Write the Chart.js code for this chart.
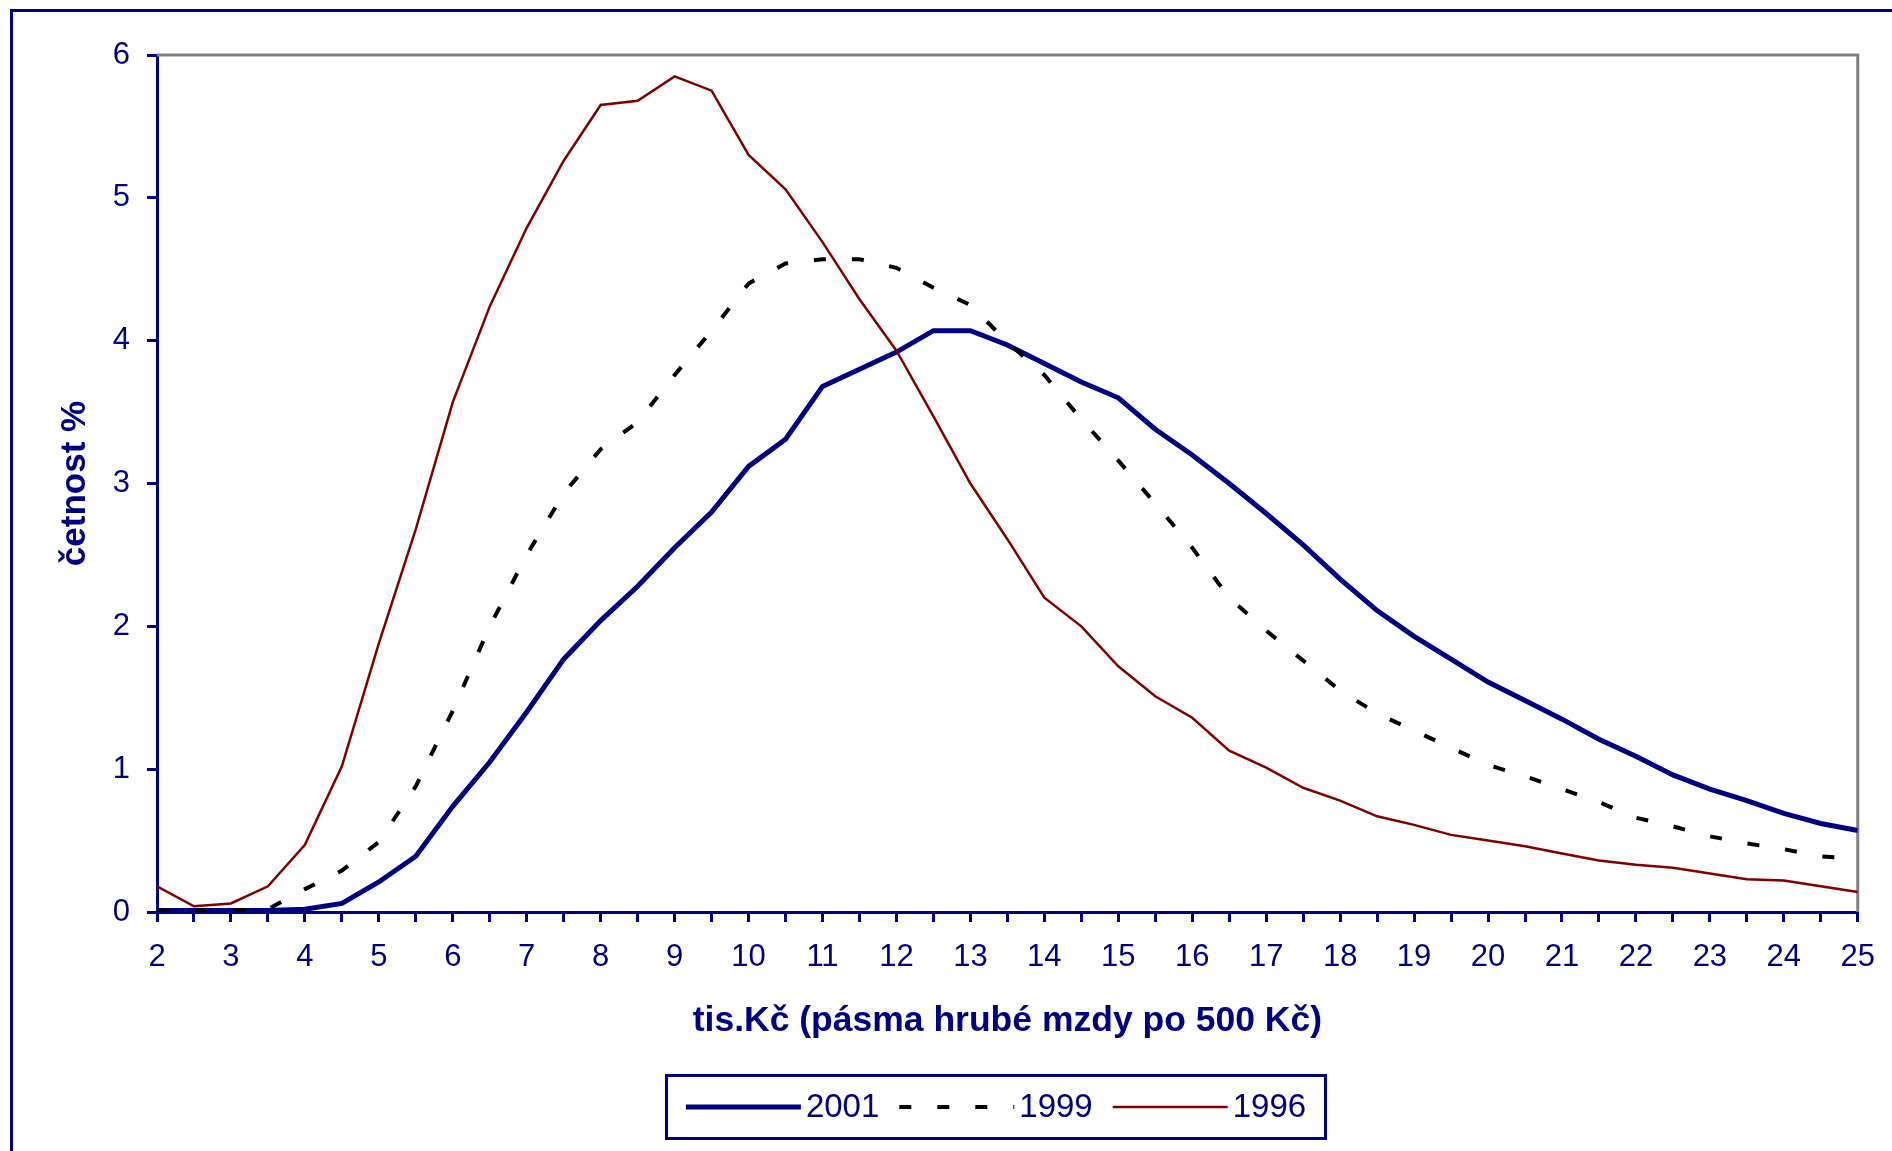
<!DOCTYPE html>
<html>
<head>
<meta charset="utf-8">
<script src="https://cdn.jsdelivr.net/npm/chart.js@4/dist/chart.umd.min.js"></script>
<style>
html,body{margin:0;padding:0;background:#ffffff;overflow:hidden}
#wrap{width:1892px;height:1151px;position:relative}
</style>
</head>
<body>
<div id="wrap"><canvas id="c"></canvas></div>
<script>
// x categories: wage bands in thousands CZK (step 0.5)
const categories = [2,2.5,3,3.5,4,4.5,5,5.5,6,6.5,7,7.5,8,8.5,9,9.5,10,10.5,11,11.5,12,12.5,13,13.5,14,14.5,15,15.5,16,16.5,17,17.5,18,18.5,19,19.5,20,20.5,21,21.5,22,22.5,23,23.5,24,24.5,25];

const series2001 = [0.01,0.01,0.01,0.01,0.02,0.06,0.21,0.39,0.74,1.05,1.40,1.77,2.04,2.28,2.55,2.80,3.12,3.31,3.68,3.80,3.92,4.07,4.07,3.97,3.84,3.71,3.60,3.38,3.20,3.00,2.79,2.57,2.33,2.11,1.93,1.77,1.61,1.48,1.35,1.21,1.09,0.96,0.86,0.78,0.69,0.62,0.57];

const series1999 = [0.01,0.01,0.01,0.02,0.16,0.29,0.49,0.88,1.41,2.00,2.50,2.93,3.24,3.43,3.76,4.07,4.40,4.54,4.57,4.57,4.51,4.37,4.25,3.99,3.76,3.45,3.16,2.86,2.55,2.20,1.97,1.76,1.55,1.39,1.27,1.15,1.03,0.95,0.86,0.77,0.66,0.60,0.53,0.48,0.44,0.39,0.37];

const series1996 = [0.18,0.04,0.06,0.18,0.47,1.02,1.88,2.68,3.57,4.24,4.79,5.26,5.65,5.68,5.85,5.75,5.30,5.06,4.69,4.29,3.93,3.47,3.00,2.61,2.20,2.00,1.72,1.51,1.36,1.13,1.01,0.87,0.78,0.67,0.61,0.54,0.50,0.46,0.41,0.36,0.33,0.31,0.27,0.23,0.22,0.18,0.14];

const seriesLabels = ['2001','1999','1996'];
const yTicks = [0,1,2,3,4,5,6];
const xTitle = 'tis.Kč (pásma hrubé mzdy po 500 Kč)';
const yTitle = 'četnost %';

const NAVY = '#000080';
const FONT = '"Liberation Sans", Arial, Helvetica, sans-serif';
Chart.defaults.font.family = FONT;

const toPoints = arr => arr.map((v, i) => ({x: categories[i], y: v}));

const framePlugin = {
  id: 'frame',
  beforeDatasetsDraw(chart) {
    const {ctx, chartArea: a} = chart;
    ctx.save();
    ctx.strokeStyle = '#808080';
    ctx.lineWidth = 3;
    ctx.beginPath();
    ctx.moveTo(a.left, a.top);
    ctx.lineTo(a.right, a.top);
    ctx.lineTo(a.right, a.bottom);
    ctx.stroke();
    ctx.restore();
  },
  afterDraw(chart) {
    const {ctx} = chart;
    ctx.save();
    // outer frame
    ctx.strokeStyle = NAVY;
    ctx.lineWidth = 3;
    ctx.beginPath();
    ctx.moveTo(11.5, chart.height);
    ctx.lineTo(11.5, 10.5);
    ctx.lineTo(chart.width, 10.5);
    ctx.stroke();

    // legend box
    const bx = 665, by = 1074, bw = 662, bh = 66;
    ctx.lineWidth = 3;
    ctx.strokeRect(bx + 1.5, by + 1.5, bw - 3, bh - 3);
    ctx.font = '33px ' + FONT;
    ctx.textBaseline = 'middle';
    const lineLen = 115, gapText = 5, gapItem = 20;
    const ds = chart.data.datasets;
    let total = 0;
    ds.forEach((d, i) => {
      total += lineLen + gapText + ctx.measureText(d.label).width;
      if (i < ds.length - 1) total += gapItem;
    });
    let x = bx + (bw - total) / 2;
    const cy = by + bh / 2;
    ds.forEach(d => {
      ctx.save();
      ctx.strokeStyle = d.borderColor;
      ctx.lineWidth = d.borderWidth;
      ctx.setLineDash(d.borderDash || []);
      ctx.beginPath();
      ctx.moveTo(x, cy);
      ctx.lineTo(x + lineLen, cy);
      ctx.stroke();
      ctx.restore();
      x += lineLen + gapText;
      ctx.fillStyle = NAVY;
      ctx.textAlign = 'left';
      ctx.fillText(d.label, x, cy + 1);
      x += ctx.measureText(d.label).width + gapItem;
    });
    ctx.restore();
  }
};

new Chart(document.getElementById('c'), {
  type: 'line',
  data: {
    datasets: [
      {label: seriesLabels[0], data: toPoints(series2001), borderColor: NAVY, backgroundColor: NAVY, borderWidth: 5, pointRadius: 0, tension: 0, order: 3},
      {label: seriesLabels[1], data: toPoints(series1999), borderColor: '#000000', backgroundColor: '#000000', borderWidth: 4, borderDash: [12, 26], pointRadius: 0, tension: 0, order: 2},
      {label: seriesLabels[2], data: toPoints(series1996), borderColor: '#800000', backgroundColor: '#800000', borderWidth: 2.5, pointRadius: 0, tension: 0, order: 1}
    ]
  },
  options: {
    responsive: true,
    maintainAspectRatio: false,
    animation: false,
    layout: {padding: {top: 55, right: 34, bottom: 91, left: 0}},
    plugins: {legend: {display: false}, tooltip: {enabled: false}},
    scales: {
      x: {
        type: 'linear',
        min: categories[0],
        max: categories[categories.length - 1],
        border: {color: NAVY, width: 3},
        grid: {drawOnChartArea: false, drawTicks: true, tickLength: 10, color: NAVY, lineWidth: 3},
        ticks: {
          stepSize: 0.5, autoSkip: false, maxRotation: 0, color: NAVY, padding: 17,
          font: {size: 31},
          callback: v => Number.isInteger(v) ? String(v) : ''
        },
        title: {display: true, text: xTitle, color: NAVY, font: {size: 35.5, weight: 'bold'}, padding: {top: 0, bottom: 17}},
        afterFit: s => { s.height = 148; }
      },
      y: {
        min: yTicks[0],
        max: yTicks[yTicks.length - 1],
        border: {color: NAVY, width: 3},
        grid: {drawOnChartArea: false, drawTicks: true, tickLength: 10, color: NAVY, lineWidth: 3},
        ticks: {stepSize: 1, color: NAVY, padding: 17, font: {size: 31}},
        title: {display: true, text: yTitle, color: NAVY, font: {size: 35, weight: 'bold'}, padding: {top: 54, bottom: 0}},
        afterFit: s => { s.width = 157; }
      }
    }
  },
  plugins: [framePlugin]
});
</script>
</body>
</html>
